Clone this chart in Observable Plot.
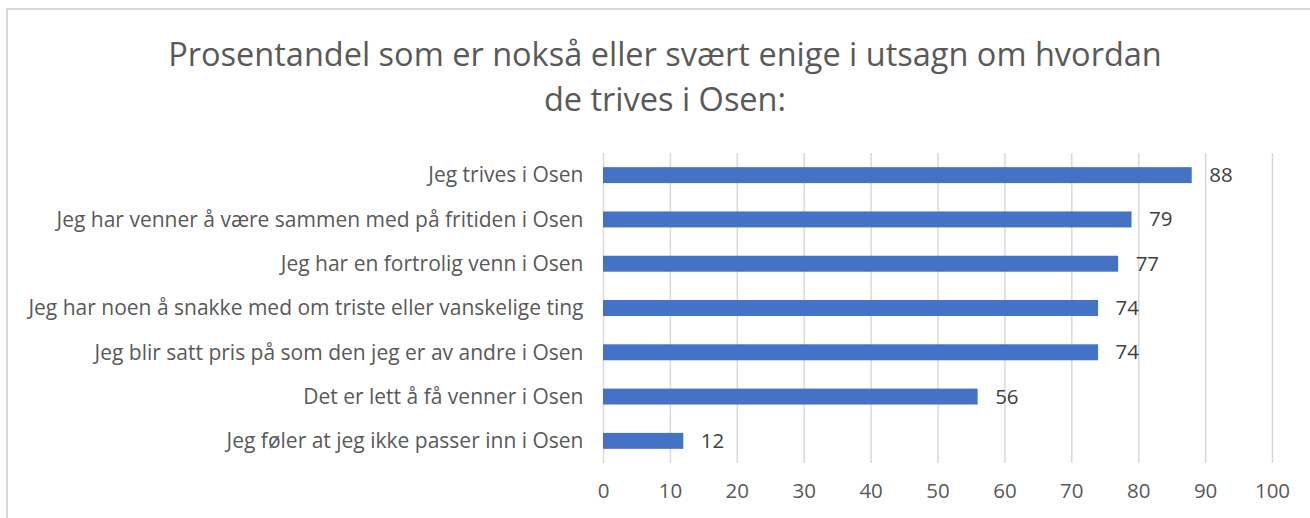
<!DOCTYPE html>
<html>
<head>
<meta charset="utf-8">
<script src="https://cdn.jsdelivr.net/npm/d3@7"></script>
<script src="https://cdn.jsdelivr.net/npm/@observablehq/plot@0.6"></script>
<style>
  html, body { margin: 0; padding: 0; background: #fff; }
  body { width: 1310px; height: 518px; overflow: hidden; position: relative; font-family: "Open Sans", sans-serif; }
  #frame { position: absolute; left: 6px; top: 8px; width: 1320px; height: 530px; border-top: 2px solid #d9d9d9; border-left: 2px solid #d9d9d9; }
  #title { position: absolute; left: 0; top: 31px; width: 1330px; text-align: center; color: #595959; font-size: 32.5px; line-height: 45px; }
  #chart { position: absolute; left: 0; top: 140px; }
</style>
</head>
<body>
<div id="frame"></div>
<div id="title">Prosentandel som er nokså eller svært enige i utsagn om hvordan<br>de trives i Osen:</div>
<div id="chart"></div>
<script>
const categories = [
  "Jeg trives i Osen",
  "Jeg har venner å være sammen med på fritiden i Osen",
  "Jeg har en fortrolig venn i Osen",
  "Jeg har noen å snakke med om triste eller vanskelige ting",
  "Jeg blir satt pris på som den jeg er av andre i Osen",
  "Det er lett å få venner i Osen",
  "Jeg føler at jeg ikke passer inn i Osen"
];
const values = [88, 79, 77, 74, 74, 56, 12];
const xTicks = [0, 10, 20, 30, 40, 50, 60, 70, 80, 90, 100];

const data = categories.map((c, i) => ({category: c, value: values[i]}));

const plot = Plot.plot({
  width: 1310,
  height: 378,
  marginTop: 13,
  marginBottom: 55,
  marginLeft: 603,
  marginRight: 38,
  style: {fontFamily: "'Open Sans', sans-serif", background: "transparent"},
  x: {domain: [0, 100], ticks: xTicks, label: null},
  y: {domain: categories, paddingInner: 0.64, paddingOuter: 0.32, round: false, label: null},
  marks: [
    Plot.ruleX(xTicks, {stroke: "#d9d9d9", strokeWidth: 1.5}),
    Plot.barX(data, {x: "value", y: "category", fill: "#4472C4"}),
    Plot.text(data, {x: "value", y: "category", text: d => String(d.value), textAnchor: "start", dx: 17, fontSize: 20.5, fill: "#404040"}),
    Plot.axisX({ticks: xTicks, tickSize: 0, tickPadding: 20, fontSize: 20.5, color: "#595959", label: null, tickFormat: d => String(d)}),
    Plot.axisY({tickSize: 0, tickPadding: 20, fontSize: 21, color: "#595959", label: null})
  ]
});
document.getElementById("chart").appendChild(plot);
</script>
</body>
</html>
